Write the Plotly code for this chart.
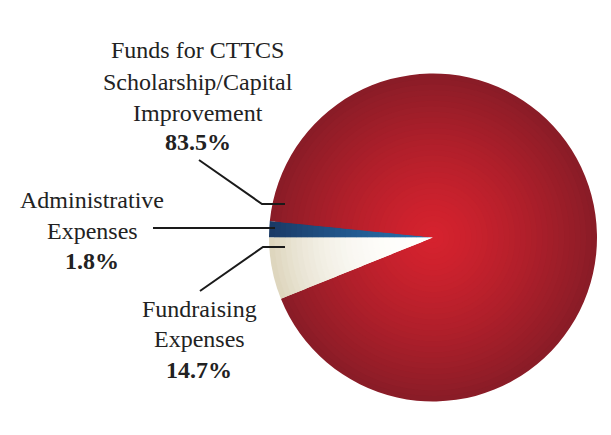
import plotly.graph_objects as go

# Categories (drawing order: clockwise from 9 o'clock)
categories = ["Administrative Expenses",
              "Funds for CTTCS Scholarship/Capital Improvement",
              "Fundraising Expenses"]
# Printed percentages shown in the labels
pct_labels = ["1.8%", "83.5%", "14.7%"]
# Slice shares as drawn in the picture
slice_share = [1.6, 92.3, 6.1]

edge_colors = [(26, 58, 102), (138, 28, 39), (222, 214, 190)]
center_colors = [(40, 112, 172), (214, 34, 46), (255, 255, 253)]
shade_power = [1.3, 1.3, 2.6]

W, H = 611, 435
cx, cy, R = 433, 237.5, 164

fig = go.Figure()
N = 30
for k in range(N):
    t = 1 - k / N
    cols = []
    for e, c, p in zip(edge_colors, center_colors, shade_power):
        f = t ** p
        rgb = tuple(round(c[i] + (e[i] - c[i]) * f) for i in range(3))
        cols.append("rgb(%d,%d,%d)" % rgb)
    r = R * t
    fig.add_trace(go.Pie(
        labels=categories, values=slice_share, sort=False,
        direction="clockwise", rotation=270,
        marker=dict(colors=cols, line=dict(width=0)),
        textinfo="none", hoverinfo="skip", showlegend=False,
        domain=dict(x=[(cx - r) / W, (cx + r) / W],
                    y=[(H - cy - r) / H, (H - cy + r) / H]),
    ))

font = "Liberation Serif"
label_blocks = [
    (198, [("Funds for CTTCS", 58), ("Scholarship/Capital", 90), ("Improvement", 121)], pct_labels[1], 150),
    (92, [("Administrative", 208), ("Expenses", 239)], pct_labels[0], 269),
    (199, [("Fundraising", 317), ("Expenses", 347)], pct_labels[2], 378),
]
annotations = []
fs = 24
for x, lines, pct, pct_base in label_blocks:
    for txt, base in lines:
        annotations.append(dict(x=x / W, y=1 - (base - 8) / H, xref="paper", yref="paper",
                                text=txt, showarrow=False, xanchor="center", yanchor="middle",
                                font=dict(family=font, size=fs, color="#222222")))
    annotations.append(dict(x=x / W, y=1 - (pct_base - 8) / H, xref="paper", yref="paper",
                            text="<b>%s</b>" % pct, showarrow=False, xanchor="center", yanchor="middle",
                            font=dict(family=font, size=fs, color="#222222")))

def px_path(pts):
    return "M " + " L ".join("%.4f,%.4f" % (x / W, 1 - y / H) for x, y in pts)

leaders = [
    [(199, 160), (262, 204), (285, 204)],
    [(153, 228), (275, 228)],
    [(285, 247), (263, 247), (200, 291)],
]
shapes = [dict(type="path", xref="paper", yref="paper", path=px_path(p),
               line=dict(color="#1a1a1a", width=2)) for p in leaders]

fig.update_layout(width=W, height=H, margin=dict(l=0, r=0, t=0, b=0),
                  paper_bgcolor="white", plot_bgcolor="white",
                  annotations=annotations, shapes=shapes)
fig.write_html("out.html", config={"displayModeBar": False},
               post_script="document.body.style.margin='0';")
